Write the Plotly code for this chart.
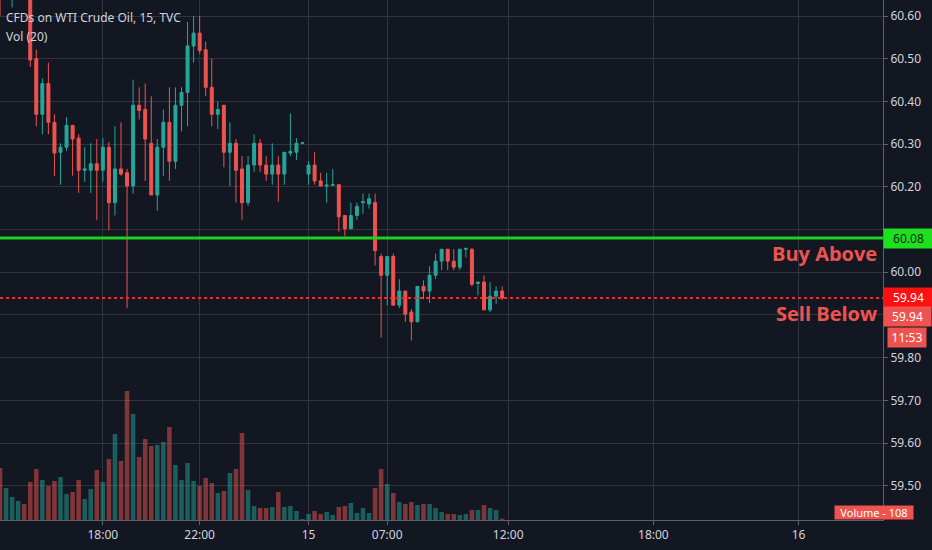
import plotly.graph_objs as go

# 15 min bars, WTI CFD (bar index along x, session gaps skipped like on the original chart)
opens = [60.70, 60.66, 60.68, 60.70, 60.72, 60.68, 60.500, 60.370, 60.442, 60.351,
         60.281, 60.293, 60.344, 60.314, 60.239, 60.239, 60.254, 60.239, 60.293, 60.163,
         60.242, 60.233, 60.202, 60.391, 60.381, 60.302, 60.181, 60.293, 60.351, 60.260,
         60.391, 60.421, 60.530, 60.560, 60.521, 60.433, 60.370, 60.391, 60.281, 60.302,
         60.242, 60.163, 60.251, 60.302, 60.251, 60.230, 60.251, 60.230, 60.279, 60.281,
         60.302, 60.230, 60.251, 60.214, 60.202, 60.204, 60.205, 60.133, 60.102, 60.133,
         60.163, 60.160, 60.163, 60.037, 59.993, 60.037, 59.923, 59.956, 59.907, 59.884,
         59.967, 59.956, 59.993, 60.026, 60.054, 60.026, 60.012, 60.054, 60.054, 59.974,
         59.977, 59.912, 59.944, 59.956]
highs = [60.75, 60.72, 60.73, 60.74, 60.74, 60.72, 60.521, 60.454, 60.491, 60.370,
         60.302, 60.363, 60.344, 60.323, 60.293, 60.302, 60.312, 60.314, 60.305, 60.342,
         60.351, 60.242, 60.451, 60.433, 60.442, 60.412, 60.312, 60.381, 60.433, 60.433,
         60.433, 60.586, 60.600, 60.600, 60.540, 60.500, 60.400, 60.391, 60.351, 60.312,
         60.272, 60.272, 60.323, 60.312, 60.272, 60.302, 60.272, 60.281, 60.372, 60.314,
         60.305, 60.260, 60.281, 60.233, 60.233, 60.242, 60.205, 60.133, 60.163, 60.163,
         60.184, 60.184, 60.184, 60.044, 60.037, 60.044, 59.984, 59.956, 59.914, 59.967,
         59.981, 60.014, 60.044, 60.054, 60.054, 60.054, 60.054, 60.056, 60.056, 59.977,
         59.993, 59.977, 59.967, 59.967]
lows = [60.60, 60.645, 60.62, 60.66, 60.66, 60.481, 60.342, 60.323, 60.323, 60.226,
        60.205, 60.284, 60.226, 60.186, 60.212, 60.186, 60.123, 60.212, 60.098, 60.133,
        60.226, 59.916, 60.184, 60.358, 60.214, 60.181, 60.144, 60.226, 60.214, 60.242,
        60.330, 60.342, 60.491, 60.512, 60.412, 60.342, 60.335, 60.246, 60.202, 60.163,
        60.123, 60.156, 60.235, 60.235, 60.214, 60.205, 60.165, 60.205, 60.272, 60.263,
        60.300, 60.205, 60.205, 60.202, 60.163, 60.202, 60.095, 60.084, 60.102, 60.123,
        60.137, 60.149, 60.016, 59.847, 59.923, 59.923, 59.916, 59.884, 59.840, 59.884,
        59.937, 59.928, 59.984, 60.005, 60.005, 60.005, 60.005, 60.035, 59.967, 59.946,
        59.912, 59.907, 59.926, 59.935]
closes = [60.66, 60.70, 60.71, 60.72, 60.68, 60.497, 60.370, 60.442, 60.351, 60.279,
          60.293, 60.344, 60.312, 60.239, 60.242, 60.254, 60.239, 60.293, 60.163, 60.242,
          60.230, 60.202, 60.391, 60.379, 60.312, 60.181, 60.293, 60.351, 60.260, 60.391,
          60.421, 60.530, 60.560, 60.519, 60.433, 60.370, 60.381, 60.281, 60.302, 60.239,
          60.163, 60.251, 60.302, 60.251, 60.230, 60.251, 60.230, 60.281, 60.283, 60.302,
          60.303, 60.251, 60.214, 60.202, 60.204, 60.205, 60.130, 60.102, 60.133, 60.154,
          60.165, 60.172, 60.051, 59.993, 60.037, 59.923, 59.956, 59.902, 59.884, 59.967,
          59.956, 59.993, 60.026, 60.054, 60.026, 60.012, 60.054, 60.056, 59.972, 59.977,
          59.912, 59.944, 59.956, 59.940]
volumes = [3900, 2400, 1725, 1425, 1200, 2850, 3825, 3000, 2550, 2925,
           3225, 1950, 2100, 3000, 1575, 2325, 3750, 2850, 4575, 6450,
           4425, 9675, 7950, 4725, 6075, 5550, 5625, 5850, 6975, 4125,
           3000, 4275, 2925, 2550, 3150, 2775, 2025, 2175, 3525, 3825,
           6525, 2250, 1050, 900, 900, 975, 2100, 975, 1050, 675,
           75, 450, 675, 450, 600, 375, 975, 1050, 1275, 525,
           900, 525, 2400, 3825, 2700, 2025, 1350, 1200, 1350, 1125,
           1200, 1200, 900, 600, 450, 450, 375, 450, 750, 750,
           1125, 900, 750, 108]

tick_idx = [17, 33, 51, 64, 84, 108, 132]
tick_text = ['18:00', '22:00', '15', '07:00', '12:00', '18:00', '16']
# price labels; 60.10 and 59.90 sit behind the level boxes
price_ticks = [59.5, 59.6, 59.7, 59.8, 60.0, 60.2, 60.3, 60.4, 60.5, 60.6]

buy_level = 60.08
sell_level = 59.94
last_price = 59.94
countdown = '11:53'

UP = '#26a69a'
DOWN = '#ef5350'
BG = '#131722'
GRID = '#30343f'
TXT = '#d1d4dc'
FONT = 'Noto Sans'

x = list(range(len(opens)))
vol_colors = ['rgba(38,166,154,0.5)' if c >= o else 'rgba(239,83,80,0.5)'
              for o, c in zip(opens, closes)]

candles = go.Candlestick(x=x, open=opens, high=highs, low=lows, close=closes,
                         increasing=dict(line=dict(color=UP, width=1), fillcolor=UP),
                         decreasing=dict(line=dict(color=DOWN, width=1), fillcolor=DOWN),
                         yaxis='y', hoverinfo='skip', showlegend=False)

vol = go.Bar(x=x, y=volumes, marker=dict(color=vol_colors, line=dict(width=0)),
             width=0.75, yaxis='y2', hoverinfo='skip', showlegend=False)

data = [vol, candles]

annotations = [
    dict(text='CFDs on WTI Crude Oil, 15, TVC', xref='paper', yref='paper', x=0.004, y=0.966,
         xanchor='left', yanchor='middle', showarrow=False, font=dict(size=12, color=TXT, family=FONT)),
    dict(text='Vol (20)', xref='paper', yref='paper', x=0.004, y=0.930,
         xanchor='left', yanchor='middle', showarrow=False, font=dict(size=12, color=TXT, family=FONT)),
    dict(text='Buy Above', xref='paper', yref='y', x=0.995, y=buy_level, xanchor='right',
         yanchor='top', yshift=0, showarrow=False,
         font=dict(size=20, color='#ef5350', family='Open Sans', weight='bold')),
    dict(text='Sell Below', xref='paper', yref='y', x=0.995, y=sell_level, xanchor='right',
         yanchor='top', yshift=0, showarrow=False,
         font=dict(size=20, color='#ef5350', family='Open Sans', weight='bold')),
    dict(text='%.2f' % buy_level, xref='paper', yref='y', x=1, y=buy_level, xanchor='left',
         yanchor='middle', showarrow=False, bgcolor='#1fe01f', width=45, height=15, borderpad=2,
         font=dict(size=12, color='#0d2a10', family=FONT)),
    dict(text='%.2f' % sell_level, xref='paper', yref='y', x=1, y=sell_level, xanchor='left',
         yanchor='middle', showarrow=False, bgcolor='#ff1010', width=45, height=15, borderpad=2,
         font=dict(size=12, color='white', family=FONT)),
    dict(text='%.2f' % last_price, xref='paper', yref='y', x=1, y=last_price, xanchor='left',
         yanchor='middle', yshift=-19, showarrow=False, bgcolor='#ef5350', width=43, height=15,
         borderpad=2, font=dict(size=12, color='white', family=FONT)),
    dict(text=countdown, xref='paper', yref='y', x=1.005, y=last_price, xanchor='left',
         yanchor='middle', yshift=-40, showarrow=False, bgcolor='#ef5350', width=34, height=15,
         borderpad=2, font=dict(size=12, color='white', family=FONT)),
    dict(text='Volume - %d' % volumes[-1], xref='paper', yref='paper', x=0.945, y=0.0,
         xanchor='left', yanchor='bottom', showarrow=False, bgcolor='#ef5350', width=76, height=11,
         borderpad=1, font=dict(size=11, color='white', family=FONT)),
]

shapes = [
    dict(type='line', xref='paper', yref='y', x0=0, x1=1, y0=buy_level, y1=buy_level,
         line=dict(color='#1fd01f', width=3)),
    dict(type='line', xref='paper', yref='y', x0=0, x1=1, y0=sell_level, y1=sell_level,
         line=dict(color='#f22b2b', width=2, dash='dot')),
]

layout = go.Layout(
    width=932, height=550,
    margin=dict(l=0, r=49, t=0, b=30),
    paper_bgcolor=BG, plot_bgcolor=BG,
    showlegend=False, hovermode=False,
    font=dict(family=FONT, color=TXT, size=12),
    xaxis=dict(range=[0, 145.95], tickvals=tick_idx, ticktext=tick_text,
               showgrid=True, gridcolor=GRID, gridwidth=1, zeroline=False,
               showline=True, linecolor='#5d606b', ticks='outside', ticklen=4, tickcolor='#5d606b',
               tickfont=dict(size=12, color=TXT), rangeslider=dict(visible=False)),
    yaxis=dict(side='right', range=[59.42, 60.6375], tickvals=price_ticks, tickformat='.2f',
               showgrid=True, gridcolor=GRID, gridwidth=1, zeroline=False,
               minor=dict(tick0=59.5, dtick=0.1, showgrid=True, gridcolor=GRID, gridwidth=1,
                          ticks='outside', ticklen=4, tickcolor='#5d606b'),
               showline=True, linecolor='#5d606b', ticks='outside', ticklen=4, tickcolor='#5d606b',
               tickfont=dict(size=12, color=TXT)),
    yaxis2=dict(overlaying='y', range=[0, 39000], visible=False, showgrid=False),
    annotations=annotations, shapes=shapes,
)

fig = go.Figure(data=data, layout=layout)
# no default page margin, so the 932x550 figure fills the window
fig.write_html('out.html', config={'displayModeBar': False},
               post_script="document.body.style.margin='0';")
